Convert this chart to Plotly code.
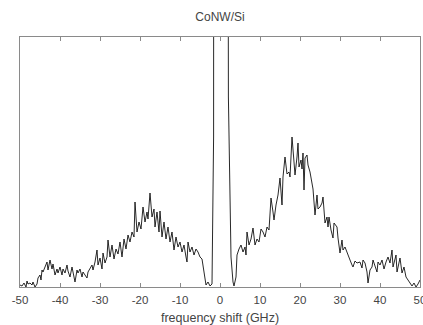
import plotly.graph_objects as go

# frequency shift (GHz)
shift_ghz = [
    -50, -49.5, -49, -48.5, -48.25, -48, -47.5, -47, -46.75, -46.25, -45.75, -45.5,
    -45, -44.75, -44.5, -44.25, -43.75, -43.25, -43, -42.5, -42, -41.75, -41.25,
    -40.75, -40.5, -40, -39.5, -39.25, -38.75, -38.25, -38, -37.5, -37, -36.75,
    -36.25, -35.75, -35.5, -35, -34.5, -34.25, -33.75, -33.25, -33, -32.5, -32,
    -31.75, -31.25, -30.75, -30.5, -30, -29.5, -29.25, -28.75, -28.25, -28, -27.5,
    -27, -26.5, -26, -25.5, -25, -24.5, -24, -23.5, -23, -22.5, -22, -21.5, -21.25,
    -20.75, -20.25, -19.75, -19.25, -18.75, -18.25, -18, -17.5, -17, -16.5, -16.25,
    -15.75, -15.25, -15, -14.5, -14, -13.5, -13, -12.5, -12, -11.5, -11, -10.5, -10,
    -9.5, -9, -8.5, -8.25, -8, -7.5, -7, -6.5, -6, -5.5, -5, -4.5, -4, -3.5, -3,
    -2.5, -2, -1.6, -1.45, -0.5, 0.5, 1.5, 2.1, 2.75, 3.25, 3.5,
    4, 4.25, 4.75, 5.25, 5.75, 6.25, 6.5, 6.75, 7.25, 7.75, 8.25, 8.75, 9.25, 9.75,
    10.25, 10.75, 11.25, 11.75, 12.25, 12.75, 13.25, 13.5, 14, 14.5, 15, 15.5, 15.75,
    16.25, 16.75, 17.25, 17.5, 18, 18.5, 18.75, 19.25, 19.5, 19.75, 20.25, 20.5,
    20.75, 21, 21.25, 21.75, 22, 22.5, 23, 23.25, 23.75, 24.25, 24.5, 25, 25.5, 25.75,
    26.25, 26.75, 27, 27.25, 27.75, 28.25, 28.5, 29.25, 29.5, 30, 30.5, 30.75, 31.25,
    31.75, 32.5, 33, 33.25, 33.75, 34.25, 35, 35.5, 35.75, 36.25, 36.75, 37, 37.5, 38,
    38.25, 38.75, 39.25, 39.5, 40, 40.5, 41, 41.5, 42, 42.5, 43, 43.25, 44, 44.25, 45,
    45.5, 46, 46.5, 47, 47.5, 48, 48.5, 49, 49.5, 50,
]

# intensity (arbitrary units)
intensity = [
    2, 1, 4, 0, 6, 3, 4, 2, 5, 0, 3, 9,
    12, 7, 17, 15, 20, 25, 17, 27, 18, 23, 12,
    18, 14, 20, 12, 18, 14, 22, 16, 10, 20, 14,
    5, 17, 14, 18, 10, 15, 12, 9, 15, 18, 22,
    17, 25, 37, 22, 29, 18, 34, 24, 30, 47, 30,
    42, 28, 38, 33, 45, 30, 48, 38, 52, 45, 55, 50, 85,
    55, 65, 58, 80, 65, 75, 68, 94, 70, 78, 60,
    75, 55, 76, 50, 65, 48, 60, 45, 55, 37, 50, 40, 45,
    35, 42, 30, 25, 45, 35, 40, 32, 38, 35, 30, 28, 15, 2, 5,
    1, 3, 150, 2000, 3000, 3000, 2000, 190, 30, 5, 1,
    10, 32, 38, 42, 35, 40, 32, 55, 42, 48, 59, 42, 48, 45,
    58, 55, 50, 60, 57, 89, 75, 67, 82, 92, 109, 82, 110,
    130, 113, 115, 110, 150, 125, 112, 130, 144, 120, 127, 118,
    134, 97, 129, 132, 122, 115, 104, 98, 72, 92, 78, 80, 84, 90,
    64, 70, 60, 70, 57, 49, 64, 60, 49, 34, 47, 37, 40,
    34, 27, 22, 20, 26, 24, 25, 19, 27, 24, 15, 4, 17, 20,
    27, 20, 15, 25, 22, 27, 18, 25, 30, 24, 37, 20, 32, 15, 29,
    14, 20, 10, 7, 3, 1, 4, 0, 3, 7,
]

x_ticks = [-50, -40, -30, -20, -10, 0, 10, 20, 30, 40, 50]

fig = go.Figure()
fig.add_trace(go.Scatter(
    x=shift_ghz, y=intensity, mode="lines",
    line=dict(color="#111111", width=0.9),
    showlegend=False, hoverinfo="skip",
))

font_family = "Liberation Sans, Arial, sans-serif"
frame = "#8a8a8a"
text_col = "#444444"

fig.update_layout(
    width=423, height=325,
    margin=dict(l=20, r=3, t=37, b=38, autoexpand=False),
    paper_bgcolor="white", plot_bgcolor="white",
    font=dict(family=font_family, size=11, color=text_col),
    title=dict(text="CoNW/Si", x=0.5, xref="paper", xanchor="center",
               y=1 - 16.5 / 325, yref="container", yanchor="middle",
               font=dict(size=12, color=text_col)),
    showlegend=False,
)
fig.update_xaxes(
    range=[-50, 50], tickvals=x_ticks, ticktext=[str(t) for t in x_ticks],
    showline=True, linecolor=frame, linewidth=1, mirror="ticks",
    ticks="inside", ticklen=4, tickcolor=frame, tickwidth=1,
    showgrid=False, zeroline=False, automargin=False,
    ticklabeloverflow="allow", ticklabelstandoff=2,
    tickfont=dict(size=11.5, color=text_col),
    title=dict(text="frequency shift (GHz)", standoff=10,
               font=dict(size=12.5, color=text_col)),
)
fig.update_yaxes(
    range=[0, 250], showline=True, linecolor=frame, linewidth=1, mirror=True,
    ticks="", showticklabels=False, showgrid=False, zeroline=False,
    automargin=False,
)

fig.write_html("out.html")
